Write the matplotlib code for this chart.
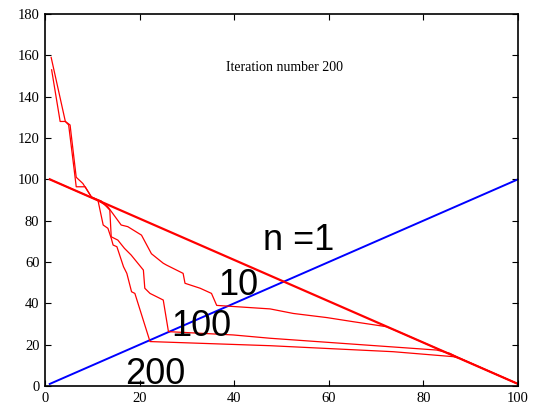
import matplotlib
matplotlib.use("Agg")
import matplotlib.pyplot as plt

# n = 1: straight line, and the diagonal reference line
n1_x = [1, 100]
n1_y = [100, 1]
diag_x = [1, 100]
diag_y = [1, 100]

# n = 10
c10_x = [1, 11.2, 13.3, 16.1, 17.5, 20.4, 22.5, 25.0, 25.7, 29.2, 29.6, 32.8,
         35.2, 36.3, 47.6, 52.5, 59.6, 65.2, 72.2, 75.0, 100]
c10_y = [100, 89.8, 86.7, 77.9, 77.1, 73.0, 64.0, 59.4, 58.5, 54.5, 49.7, 47.3,
         44.8, 39.0, 37.3, 35.1, 33.1, 31.1, 28.7, 26.0, 1]

# n = 100
c100_x = [1.4, 3.2, 4.3, 5.0, 6.2, 6.6, 8.5, 9.8, 11.9, 13.7, 14.0, 15.4, 16.8,
          18.2, 20.8, 21.1, 22.2, 25.0, 26.1, 39.8, 47.6, 72.9, 82.8, 85.6, 87.7, 100]
c100_y = [153, 128, 128, 126.3, 104, 96.4, 96.4, 91.5, 89.5, 85.1, 72.2, 70.6, 66.6,
          63.4, 56.1, 47.3, 44.8, 41.6, 26.3, 24.7, 23.1, 19.0, 17.4, 15.8, 13.4, 1]

# n = 200
c200_x = [1.3, 4.3, 5.3, 6.6, 8.0, 9.8, 11.2, 12.3, 13.3, 14.0, 14.4, 15.2, 16.6,
          17.3, 18.3, 19.0, 22.2, 47.6, 73.6, 86.3, 87.7, 100]
c200_y = [159, 128, 126.3, 101, 98, 91.5, 89.8, 77.9, 76.3, 71.5, 68.2, 67.4, 57.7,
          54.5, 45.6, 44.8, 21.5, 19.5, 16.6, 14.2, 13.4, 1]

labels = ["n =1", "10", "100", "200"]
label_x = [46.0, 36.6, 26.7, 16.9]
label_y = [66.0, 44.0, 24.2, 1.0]

x_ticks = [0, 20, 40, 60, 80, 100]
y_ticks = [0, 20, 40, 60, 80, 100, 120, 140, 160, 180]

fig = plt.figure(figsize=(5.39, 4.07), dpi=100)
ax = fig.add_axes([0.0835, 0.0516, 0.8775, 0.914])

ax.plot(diag_x, diag_y, color='#0000ff', linewidth=1.4)
ax.plot(n1_x, n1_y, color='#ff0000', linewidth=1.6)
for xs, ys in [(c10_x, c10_y), (c100_x, c100_y), (c200_x, c200_y)]:
    ax.plot(xs, ys, color='#ff0000', linewidth=0.9)

for txt, tx, ty in zip(labels, label_x, label_y):
    ax.text(tx, ty, txt, fontsize=26, family='Liberation Sans', color='black',
            ha='left', va='baseline')

ax.text(50.7, 154, "Iteration number 200", fontsize=10, family='Liberation Serif',
        ha='center', va='center')

ax.set_xlim(0, 100)
ax.set_ylim(0, 180)
ax.set_xticks(x_ticks)
ax.set_yticks(y_ticks)
ax.tick_params(direction='in', top=True, right=True, length=4, width=0.8,
               labelsize=10.5, pad=4)
for lab in ax.get_xticklabels() + ax.get_yticklabels():
    lab.set_family('Liberation Serif')
for sp in ax.spines.values():
    sp.set_linewidth(1.2)

fig.savefig("out.png", dpi=100)
